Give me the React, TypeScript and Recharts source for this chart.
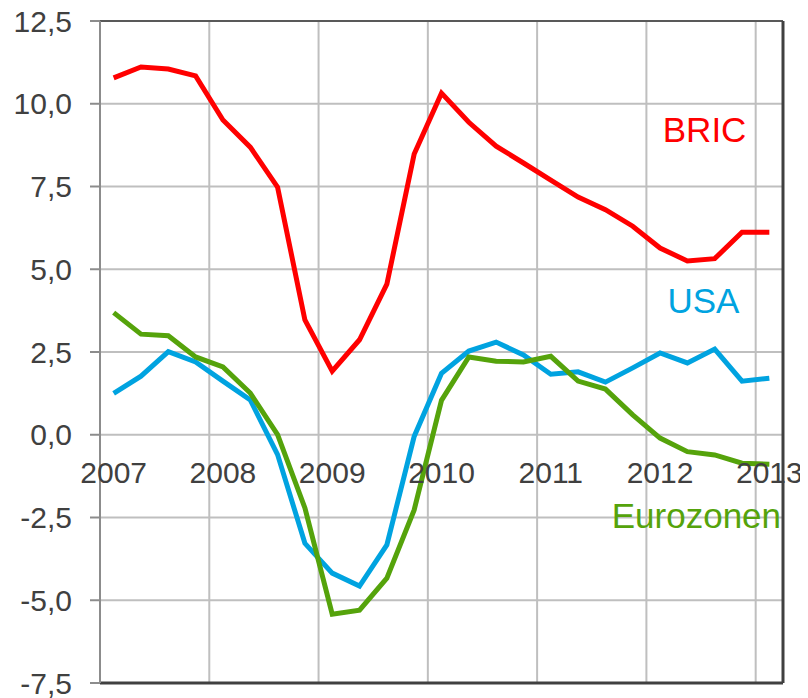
import React from 'react';
import { LineChart, Line, XAxis, YAxis, CartesianGrid, ReferenceLine, ReferenceDot } from 'recharts';

const quarters = ['2007Q1','2007Q2','2007Q3','2007Q4','2008Q1','2008Q2','2008Q3','2008Q4','2009Q1','2009Q2','2009Q3','2009Q4','2010Q1','2010Q2','2010Q3','2010Q4','2011Q1','2011Q2','2011Q3','2011Q4','2012Q1','2012Q2','2012Q3','2012Q4','2013Q1'];
const bric = [10.78, 11.11, 11.05, 10.84, 9.51, 8.69, 7.48, 3.47, 1.92, 2.87, 4.55, 8.48, 10.32, 9.44, 8.72, 8.21, 7.69, 7.18, 6.8, 6.3, 5.64, 5.25, 5.32, 6.12, 6.12];
const usa = [1.25, 1.77, 2.51, 2.2, 1.62, 1.05, -0.6, -3.28, -4.18, -4.57, -3.33, -0.05, 1.86, 2.53, 2.8, 2.41, 1.83, 1.9, 1.59, 2.02, 2.47, 2.17, 2.59, 1.62, 1.71];
const euro = [3.69, 3.04, 2.99, 2.35, 2.05, 1.26, 0.0, -2.21, -5.42, -5.3, -4.33, -2.27, 1.04, 2.35, 2.22, 2.2, 2.37, 1.62, 1.38, 0.6, -0.1, -0.51, -0.61, -0.86, -0.89];
const years = ['2007', '2008', '2009', '2010', '2011', '2012', '2013'];
const yTicks = [-7.5, -5, -2.5, 0, 2.5, 5, 7.5, 10, 12.5];

const data = quarters.map((q, i) => ({ q, x: i + 0.5, bric: bric[i], usa: usa[i], euro: euro[i] }));
const yearGrid = years.map((_, k) => k * 4);

const FONT = '"Liberation Sans", Arial, sans-serif';
const TEXT = '#404040';
const FS = 30;

export default function App() {
  return (
    <LineChart width={800} height={690} data={data} margin={{ top: 13, right: 25, bottom: 15, left: 0 }}>
      <CartesianGrid stroke="#bfbfbf" strokeWidth={2} vertical={false} />
      <XAxis dataKey="x" type="number" domain={[0, quarters.length]} ticks={yearGrid} tick={false} tickLine={false} axisLine={false} height={0} />
      <YAxis
        type="number"
        domain={[-7.5, 12.5]}
        ticks={yTicks}
        interval={0}
        width={92}
        tickSize={10}
        tickMargin={18}
        tickFormatter={(v: number) => v.toFixed(1).replace('.', ',')}
        tick={{ fill: TEXT, fontSize: FS, fontFamily: FONT }}
        axisLine={{ stroke: '#8c8c8c', strokeWidth: 2 }}
        tickLine={{ stroke: '#8c8c8c', strokeWidth: 2 }}
      />
      {yearGrid.slice(1).map((g) => (
        <ReferenceLine key={g} x={g} stroke="#bfbfbf" strokeWidth={2} />
      ))}
      <ReferenceLine y={12.5} stroke="#595959" strokeWidth={2} />
      <ReferenceLine y={-7.5} stroke="#404040" strokeWidth={3} />
      <ReferenceLine x={quarters.length} stroke="#404040" strokeWidth={3} />
      <Line dataKey="bric" stroke="#ff0000" strokeWidth={5} dot={false} isAnimationActive={false} />
      <Line dataKey="usa" stroke="#00a3e0" strokeWidth={5} dot={false} isAnimationActive={false} />
      <Line dataKey="euro" stroke="#55a30b" strokeWidth={5} dot={false} isAnimationActive={false} />
      {years.map((y, k) => (
        <ReferenceDot key={y} x={k * 4 + 0.5} y={0} r={0} stroke="none" fill="none"
          label={{ value: y, position: 'bottom', offset: 27, fill: TEXT, fontSize: FS, fontFamily: FONT }} />
      ))}
      <ReferenceDot x={22.13} y={9.22} r={0} stroke="none" fill="none"
        label={{ value: 'BRIC', position: 'center', fill: '#ff0000', fontSize: 35, fontFamily: FONT }} />
      <ReferenceDot x={22.09} y={4.04} r={0} stroke="none" fill="none"
        label={{ value: 'USA', position: 'center', fill: '#00a3e0', fontSize: 35, fontFamily: FONT }} />
      <ReferenceDot x={21.83} y={-2.43} r={0} stroke="none" fill="none"
        label={{ value: 'Eurozonen', position: 'center', fill: '#55a30b', fontSize: 35, fontFamily: FONT }} />
    </LineChart>
  );
}
